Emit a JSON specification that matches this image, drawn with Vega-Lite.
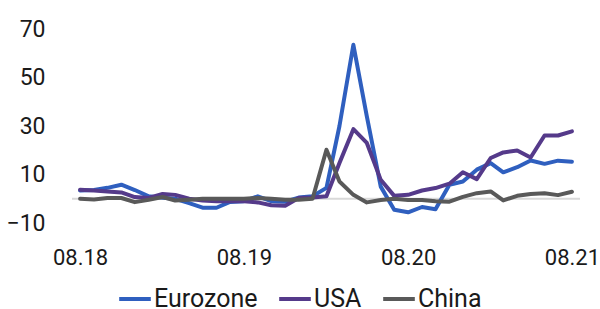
{
  "$schema": "https://vega.github.io/schema/vega-lite/v6.json",
  "width": 508,
  "height": 194,
  "autosize": "none",
  "padding": {"left": 72, "top": 29, "right": 20, "bottom": 86},
  "background": "white",
  "config": {
    "view": {"stroke": null},
    "font": "Roboto",
    "axis": {"labelFont": "Roboto", "labelColor": "#1a1a1a", "labelFontSize": 22}
  },
  "datasets": {
    "rows": [
      {"date": "2018-08-01", "series": "Eurozone", "value": 3.4},
      {"date": "2018-09-01", "series": "Eurozone", "value": 3.6},
      {"date": "2018-10-01", "series": "Eurozone", "value": 4.5},
      {"date": "2018-11-01", "series": "Eurozone", "value": 5.8},
      {"date": "2018-12-01", "series": "Eurozone", "value": 3.6},
      {"date": "2019-01-01", "series": "Eurozone", "value": 1},
      {"date": "2019-02-01", "series": "Eurozone", "value": 0.4},
      {"date": "2019-03-01", "series": "Eurozone", "value": 0},
      {"date": "2019-04-01", "series": "Eurozone", "value": -1.8},
      {"date": "2019-05-01", "series": "Eurozone", "value": -3.7},
      {"date": "2019-06-01", "series": "Eurozone", "value": -3.7},
      {"date": "2019-07-01", "series": "Eurozone", "value": -1.3},
      {"date": "2019-08-01", "series": "Eurozone", "value": -1},
      {"date": "2019-09-01", "series": "Eurozone", "value": 1},
      {"date": "2019-10-01", "series": "Eurozone", "value": -1},
      {"date": "2019-11-01", "series": "Eurozone", "value": -1.2},
      {"date": "2019-12-01", "series": "Eurozone", "value": 0.5},
      {"date": "2020-01-01", "series": "Eurozone", "value": 1},
      {"date": "2020-02-01", "series": "Eurozone", "value": 4.5},
      {"date": "2020-03-01", "series": "Eurozone", "value": 30},
      {"date": "2020-04-01", "series": "Eurozone", "value": 63.5},
      {"date": "2020-05-01", "series": "Eurozone", "value": 34},
      {"date": "2020-06-01", "series": "Eurozone", "value": 5},
      {"date": "2020-07-01", "series": "Eurozone", "value": -4.5},
      {"date": "2020-08-01", "series": "Eurozone", "value": -5.6},
      {"date": "2020-09-01", "series": "Eurozone", "value": -3.4},
      {"date": "2020-10-01", "series": "Eurozone", "value": -4.3},
      {"date": "2020-11-01", "series": "Eurozone", "value": 5.8},
      {"date": "2020-12-01", "series": "Eurozone", "value": 7.1},
      {"date": "2021-01-01", "series": "Eurozone", "value": 12},
      {"date": "2021-02-01", "series": "Eurozone", "value": 14.7},
      {"date": "2021-03-01", "series": "Eurozone", "value": 10.9},
      {"date": "2021-04-01", "series": "Eurozone", "value": 13},
      {"date": "2021-05-01", "series": "Eurozone", "value": 15.8},
      {"date": "2021-06-01", "series": "Eurozone", "value": 14.4},
      {"date": "2021-07-01", "series": "Eurozone", "value": 15.7},
      {"date": "2021-08-01", "series": "Eurozone", "value": 15.3},
      {"date": "2018-08-01", "series": "USA", "value": 3.7},
      {"date": "2018-09-01", "series": "USA", "value": 3.4},
      {"date": "2018-10-01", "series": "USA", "value": 3},
      {"date": "2018-11-01", "series": "USA", "value": 2.6},
      {"date": "2018-12-01", "series": "USA", "value": 0.7},
      {"date": "2019-01-01", "series": "USA", "value": 0.3},
      {"date": "2019-02-01", "series": "USA", "value": 2},
      {"date": "2019-03-01", "series": "USA", "value": 1.6},
      {"date": "2019-04-01", "series": "USA", "value": 0},
      {"date": "2019-05-01", "series": "USA", "value": -0.7},
      {"date": "2019-06-01", "series": "USA", "value": -1},
      {"date": "2019-07-01", "series": "USA", "value": -1},
      {"date": "2019-08-01", "series": "USA", "value": -1},
      {"date": "2019-09-01", "series": "USA", "value": -1.5},
      {"date": "2019-10-01", "series": "USA", "value": -2.7},
      {"date": "2019-11-01", "series": "USA", "value": -2.9},
      {"date": "2019-12-01", "series": "USA", "value": 0.3},
      {"date": "2020-01-01", "series": "USA", "value": 0.5},
      {"date": "2020-02-01", "series": "USA", "value": 1},
      {"date": "2020-03-01", "series": "USA", "value": 14.7},
      {"date": "2020-04-01", "series": "USA", "value": 28.7},
      {"date": "2020-05-01", "series": "USA", "value": 23},
      {"date": "2020-06-01", "series": "USA", "value": 7.8},
      {"date": "2020-07-01", "series": "USA", "value": 1.2},
      {"date": "2020-08-01", "series": "USA", "value": 1.6},
      {"date": "2020-09-01", "series": "USA", "value": 3.4},
      {"date": "2020-10-01", "series": "USA", "value": 4.4},
      {"date": "2020-11-01", "series": "USA", "value": 6.2},
      {"date": "2020-12-01", "series": "USA", "value": 10.9},
      {"date": "2021-01-01", "series": "USA", "value": 8.1},
      {"date": "2021-02-01", "series": "USA", "value": 16.8},
      {"date": "2021-03-01", "series": "USA", "value": 19.1},
      {"date": "2021-04-01", "series": "USA", "value": 19.9},
      {"date": "2021-05-01", "series": "USA", "value": 17},
      {"date": "2021-06-01", "series": "USA", "value": 26.1},
      {"date": "2021-07-01", "series": "USA", "value": 26.1},
      {"date": "2021-08-01", "series": "USA", "value": 27.8},
      {"date": "2018-08-01", "series": "China", "value": 0},
      {"date": "2018-09-01", "series": "China", "value": -0.3},
      {"date": "2018-10-01", "series": "China", "value": 0.3},
      {"date": "2018-11-01", "series": "China", "value": 0.3},
      {"date": "2018-12-01", "series": "China", "value": -1.4},
      {"date": "2019-01-01", "series": "China", "value": -0.4},
      {"date": "2019-02-01", "series": "China", "value": 0.7},
      {"date": "2019-03-01", "series": "China", "value": -0.7},
      {"date": "2019-04-01", "series": "China", "value": -0.4},
      {"date": "2019-05-01", "series": "China", "value": 0},
      {"date": "2019-06-01", "series": "China", "value": 0},
      {"date": "2019-07-01", "series": "China", "value": 0},
      {"date": "2019-08-01", "series": "China", "value": 0},
      {"date": "2019-09-01", "series": "China", "value": 0.3},
      {"date": "2019-10-01", "series": "China", "value": 0},
      {"date": "2019-11-01", "series": "China", "value": -0.4},
      {"date": "2019-12-01", "series": "China", "value": -0.4},
      {"date": "2020-01-01", "series": "China", "value": 0},
      {"date": "2020-02-01", "series": "China", "value": 20.2},
      {"date": "2020-03-01", "series": "China", "value": 7.1},
      {"date": "2020-04-01", "series": "China", "value": 1.6},
      {"date": "2020-05-01", "series": "China", "value": -1.5},
      {"date": "2020-06-01", "series": "China", "value": -0.5},
      {"date": "2020-07-01", "series": "China", "value": 0},
      {"date": "2020-08-01", "series": "China", "value": -0.5},
      {"date": "2020-09-01", "series": "China", "value": -0.5},
      {"date": "2020-10-01", "series": "China", "value": -1},
      {"date": "2020-11-01", "series": "China", "value": -1.2},
      {"date": "2020-12-01", "series": "China", "value": 0.8},
      {"date": "2021-01-01", "series": "China", "value": 2.3},
      {"date": "2021-02-01", "series": "China", "value": 3},
      {"date": "2021-03-01", "series": "China", "value": -0.7},
      {"date": "2021-04-01", "series": "China", "value": 1.2},
      {"date": "2021-05-01", "series": "China", "value": 2},
      {"date": "2021-06-01", "series": "China", "value": 2.3},
      {"date": "2021-07-01", "series": "China", "value": 1.5},
      {"date": "2021-08-01", "series": "China", "value": 2.9}
    ],
    "zero": [{"value": 0}]
  },
  "layer": [
    {
      "data": {"name": "zero"},
      "mark": {"type": "rule", "color": "#d9d9d9", "strokeWidth": 2},
      "encoding": {
        "y": {"field": "value", "type": "quantitative"}
      }
    },
    {
      "data": {"name": "rows"},
      "mark": {"type": "line", "strokeWidth": 4, "strokeJoin": "round", "strokeCap": "round"},
      "encoding": {
        "x": {
          "field": "date",
          "type": "temporal",
          "scale": {
            "type": "utc",
            "domain": [{"year": 2018, "month": 7, "date": 14, "utc": true}, {"year": 2021, "month": 8, "date": 19, "utc": true}],
            "nice": false
          },
          "axis": {
            "title": null,
            "domain": false,
            "ticks": false,
            "grid": false,
            "labelPadding": 24,
            "labelFlush": false,
            "values": [
              {"year": 2018, "month": 8, "date": 1, "utc": true},
              {"year": 2019, "month": 8, "date": 1, "utc": true},
              {"year": 2020, "month": 8, "date": 1, "utc": true},
              {"year": 2021, "month": 8, "date": 1, "utc": true}
            ],
            "format": "%m.%y"
          }
        },
        "y": {
          "field": "value",
          "type": "quantitative",
          "scale": {"domain": [-10, 70], "nice": false, "zero": false},
          "axis": {
            "title": null,
            "domain": false,
            "ticks": false,
            "grid": false,
            "labelFontSize": 23,
            "values": [-10, 10, 30, 50, 70],
            "labelPadding": 27
          }
        },
        "color": {
          "field": "series",
          "type": "nominal",
          "sort": ["Eurozone", "USA", "China"],
          "scale": {"domain": ["Eurozone", "USA", "China"], "range": ["#2f5fbf", "#553a8a", "#595959"]},
          "legend": {
            "title": null,
            "orient": "none",
            "direction": "horizontal",
            "legendX": 45,
            "legendY": 252,
            "symbolType": "stroke",
            "symbolSize": 1000,
            "symbolStrokeWidth": 4,
            "labelFontSize": 25,
            "labelFont": "Roboto",
            "labelColor": "#1a1a1a",
            "labelOffset": 1,
            "columnPadding": 13
          }
        }
      }
    }
  ]
}
